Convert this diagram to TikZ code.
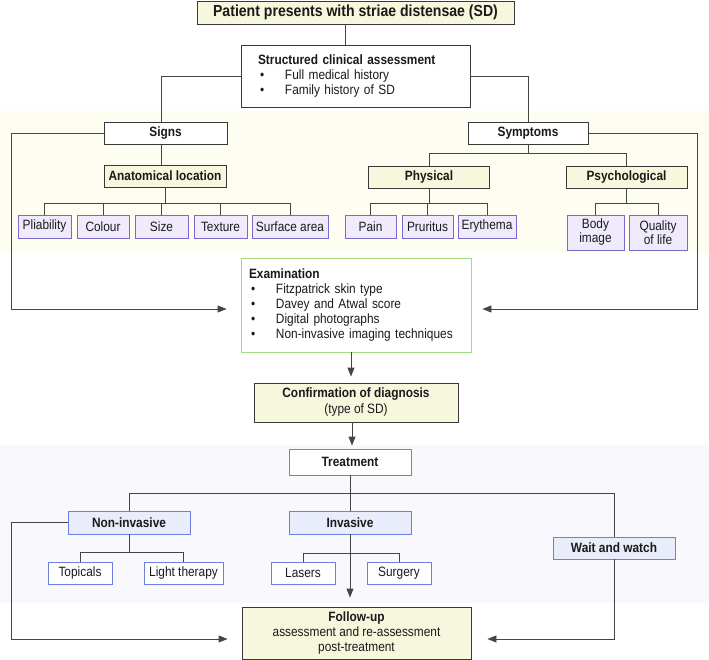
\documentclass[tikz,border=0pt]{standalone}
\usepackage{fontspec}
\setmainfont[FakeStretch=0.88]{Liberation Sans}
\usetikzlibrary{arrows.meta}
\definecolor{dk}{HTML}{383838}
\definecolor{linecol}{HTML}{454545}
\definecolor{txt}{HTML}{1A1A1A}
\definecolor{yfill}{HTML}{F6F7DC}
\definecolor{pfill}{HTML}{F0EBFC}
\definecolor{pdraw}{HTML}{7A68CC}
\definecolor{bfill}{HTML}{E9EDFB}
\definecolor{bdraw}{HTML}{6E7FE4}
\definecolor{gdraw}{HTML}{A4DC7C}
\definecolor{ypanel}{HTML}{FDFDF2}
\definecolor{bpanel}{HTML}{F9F9FD}
\newcommand{\blt}{\makebox[27pt][l]{\hspace{2pt}•}}
\tikzset{
  box/.style={draw, line width=0.9pt, inner sep=0pt, anchor=center, text=txt,
    font=\fontsize{13.5}{15}\selectfont},
  darkbox/.style={box, draw=dk, fill=white},
  ybox/.style={box, draw=dk, fill=yfill},
  pbox/.style={box, draw=pdraw, fill=pfill},
  bbox/.style={box, draw=bdraw, fill=bfill},
  wbbox/.style={box, draw=bdraw, fill=white},
  gbox/.style={box, draw=gdraw, fill=white},
  bold/.style={font=\fontsize{13.5}{15}\selectfont\bfseries},
  conn/.style={draw=linecol, line width=0.9pt},
  arr/.style={conn, -{Triangle[length=9pt,width=7pt]}}
}
\begin{document}
\begin{tikzpicture}[x=1pt,y=-1pt]
\useasboundingbox (0,0) rectangle (709,660);
\fill[white] (0,0) rectangle (709,660);
\fill[ypanel] (0,111) rectangle (709,253);
\fill[bpanel] (0,445) rectangle (709,603);

% top part
\node[ybox, minimum width=317pt, minimum height=23pt, font=\fontsize{16}{18}\selectfont\bfseries] (top) at (355.5,12.5) {Patient presents with striae distensae (SD)};
\node[darkbox, minimum width=229pt, minimum height=62pt, text width=195pt, align=left] (struct) at (355.5,76)
  {{\bfseries Structured clinical assessment}\\\blt Full medical history\\\blt Family history of SD};

\node[darkbox, bold, minimum width=123pt, minimum height=22pt] (signs) at (165.5,133) {Signs};
\node[darkbox, bold, minimum width=120pt, minimum height=22pt] (symp) at (528,133) {Symptoms};

\node[ybox, bold, minimum width=122pt, minimum height=22pt] (anat) at (165,176) {Anatomical location};
\node[ybox, bold, minimum width=121pt, minimum height=22pt] (phys) at (429,177) {Physical};
\node[ybox, bold, minimum width=121pt, minimum height=22pt] (psych) at (626.5,177) {Psychological};

\node[pbox, minimum width=53pt, minimum height=23pt] (pli) at (44.5,226.5) {Pliability};
\node[pbox, minimum width=52pt, minimum height=23pt] (col) at (103,226.5) {Colour};
\node[pbox, minimum width=53pt, minimum height=23pt] (siz) at (161.5,226.5) {Size};
\node[pbox, minimum width=53pt, minimum height=23pt] (tex) at (220.5,226.5) {Texture};
\node[pbox, minimum width=76pt, minimum height=23pt] (surf) at (290,226.5) {Surface area};

\node[pbox, minimum width=51pt, minimum height=23pt] (pain) at (370.5,226.5) {Pain};
\node[pbox, minimum width=51pt, minimum height=23pt] (prur) at (427.5,226.5) {Pruritus};
\node[pbox, minimum width=58pt, minimum height=23pt] (ery) at (487,226.5) {Erythema};

\node[pbox, minimum width=57pt, minimum height=35pt, align=center, font=\fontsize{13.5}{14}\selectfont] (body) at (595.5,232.5) {Body\\image};
\node[pbox, minimum width=58pt, minimum height=35pt, align=center, font=\fontsize{13.5}{14}\selectfont] (qual) at (658,232.5) {Quality\\of life};

\node[gbox, minimum width=230pt, minimum height=94pt, text width=214pt, align=left] (exam) at (356,305)
  {{\bfseries Examination}\\\blt Fitzpatrick skin type\\\blt Davey and Atwal score\\\blt Digital photographs\\\blt Non-invasive imaging techniques};

\node[ybox, minimum width=204pt, minimum height=39pt, align=center, font=\fontsize{13.5}{16}\selectfont] (conf) at (356,402.5)
  {{\bfseries Confirmation of diagnosis}\\(type of SD)};

% treatment part
\node[wbbox, bold, minimum width=122pt, minimum height=26pt] (treat) at (350,462) {Treatment};
\node[bbox, bold, minimum width=122pt, minimum height=23pt] (noninv) at (129,522.5) {Non-invasive};
\node[bbox, bold, minimum width=122pt, minimum height=23pt] (inv) at (350,522.5) {Invasive};
\node[bbox, bold, minimum width=122pt, minimum height=22pt] (wait) at (614,548) {Wait and watch};

\node[wbbox, minimum width=64pt, minimum height=22pt] (topi) at (80,573) {Topicals};
\node[wbbox, minimum width=79pt, minimum height=22pt] (light) at (183.5,573) {Light therapy};
\node[wbbox, minimum width=64pt, minimum height=22pt] (las) at (303,573) {Lasers};
\node[wbbox, minimum width=64pt, minimum height=22pt] (surg) at (399,573) {Surgery};

\node[ybox, minimum width=229pt, minimum height=52pt, align=center] (follow) at (356.5,633)
  {{\bfseries Follow-up}\\assessment and re-assessment\\post-treatment};

% helper coordinates
\coordinate (L1) at (11,309);
\coordinate (R1) at (697,309);
\coordinate (ab) at (0,203);
\coordinate (sb) at (0,153);
\coordinate (pb) at (0,203);
\coordinate (tb) at (0,493);
\coordinate (nb) at (0,552);
\coordinate (ib) at (0,553);
\coordinate (L2) at (11,639);
\coordinate (fy) at (0,639);

% connectors top
\draw[conn] ([xshift=-10.5pt]top.south) -- ([xshift=-10.5pt]top.south |- struct.north);
\draw[conn] (struct.west) -| ([xshift=-4.5pt]signs.north);
\draw[conn] (struct.east) -| (symp.north);
\draw[arr, shorten >=14pt] (signs.west) -| (L1) -- (L1 -| exam.west);
\draw[arr, shorten >=11pt] (symp.east) -| (R1) -- (R1 -| exam.east);

\draw[conn] ([xshift=-4.5pt]signs.south) -- ([xshift=-4.5pt]signs.south |- anat.north);
\draw[conn] (anat.south) -- (anat.south |- ab);
\draw[conn] (pli.north) -- (pli.north |- ab) -| (surf.north);
\foreach \n in {col,siz,tex} \draw[conn] (\n.north) -- (\n.north |- ab);

\draw[conn] (symp.south) -- (symp.south |- sb);
\draw[conn] (phys.north) -- (phys.north |- sb) -| (psych.north);
\draw[conn] (phys.south) -- (phys.south |- pb);
\draw[conn] (pain.north) -- (pain.north |- pb) -| (ery.north);
\draw[conn] (prur.north) -- (prur.north |- pb);
\draw[conn] (psych.south) -- (psych.south |- pb);
\draw[conn] (body.north) -- (body.north |- pb) -| (qual.north);

% middle
\draw[arr, shorten >=6pt] ([xshift=-5pt]exam.south) -- ([xshift=-5pt]exam.south |- conf.north);
\draw[arr, shorten >=3pt] ([xshift=2pt]treat.north |- conf.south) -- ([xshift=2pt]treat.north);

% treatment connectors
\draw[conn] (treat.south) -- (inv.north);
\draw[conn] (noninv.north) -- (noninv.north |- tb) -| (wait.north);
\draw[conn] (noninv.south) -- (noninv.south |- nb);
\draw[conn] (topi.north) -- (topi.north |- nb) -| (light.north);
\draw[conn] (las.north) -- (las.north |- ib) -| (surg.north);
\draw[arr, shorten >=9pt] (inv.south) -- (inv.south |- follow.north);
\draw[arr, shorten >=14pt] (noninv.west) -| (L2) -- (L2 -| follow.west);
\draw[arr, shorten >=16pt] (wait.south) |- (follow.east |- fy);
\end{tikzpicture}
\end{document}
